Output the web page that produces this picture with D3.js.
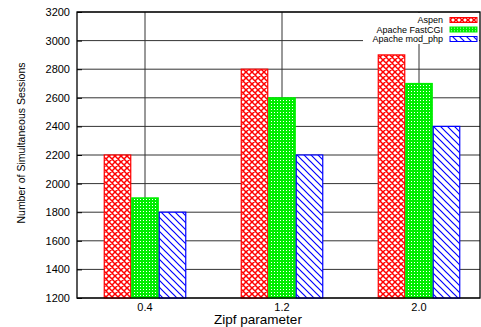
<!DOCTYPE html>
<html>
<head>
<meta charset="utf-8">
<script src="https://cdn.jsdelivr.net/npm/d3@7"></script>
<style>
  html, body { margin: 0; padding: 0; background: #fff; }
  svg { display: block; font-family: "Liberation Sans", Arial, Helvetica, sans-serif; }
</style>
</head>
<body>
<svg id="chart" width="481" height="327"></svg>
<script>
// Zipf parameter groups and the three server setups
const categories = ["0.4", "1.2", "2.0"];
const series = ["Aspen", "Apache FastCGI", "Apache mod_php"];
const aspen = [2200, 2800, 2900];
const fastcgi = [1900, 2600, 2700];
const modphp = [1800, 2200, 2400];
const yTicks = [1200, 1400, 1600, 1800, 2000, 2200, 2400, 2600, 2800, 3000, 3200];

const values = [aspen, fastcgi, modphp];
const colors = ["#ff0000", "#00ee00", "#0000ff"];
const patternIds = ["pat-cross", "pat-dots", "pat-diag"];

const svg = d3.select("#chart");
const plotLeft = 77, plotRight = 480, plotTop = 12, plotBottom = 298;

const y = d3.scaleLinear().domain([1200, 3200]).range([plotBottom, plotTop]);
const x0 = d3.scaleBand().domain(categories).range([76.5, 487.5]).padding(0);
const x1 = d3.scaleBand().domain(series).range([-41.25, 41.25]).padding(0);

// Fill patterns for the bars
const defs = svg.append("defs");
const pCross = defs.append("pattern").attr("id", "pat-cross")
  .attr("patternUnits", "userSpaceOnUse").attr("width", 6).attr("height", 6);
pCross.append("rect").attr("width", 6).attr("height", 6).attr("fill", "#fff");
pCross.append("path").attr("d", "M0,0L6,6M6,0L0,6M-1,5L1,7M5,-1L7,1M-1,1L1,-1M5,7L7,5")
  .attr("stroke", colors[0]).attr("stroke-width", 1.5);

const pDots = defs.append("pattern").attr("id", "pat-dots")
  .attr("patternUnits", "userSpaceOnUse").attr("width", 3).attr("height", 3);
pDots.append("rect").attr("width", 3).attr("height", 3).attr("fill", colors[1]);
pDots.append("rect").attr("x", 1).attr("y", 1).attr("width", 1).attr("height", 1).attr("fill", "#fff");

const pDiag = defs.append("pattern").attr("id", "pat-diag")
  .attr("patternUnits", "userSpaceOnUse").attr("width", 7).attr("height", 7);
pDiag.append("rect").attr("width", 7).attr("height", 7).attr("fill", "#fff");
pDiag.append("path").attr("d", "M0,0L7,7M-1,6L1,8M6,-1L8,1")
  .attr("stroke", colors[2]).attr("stroke-width", 1.2);

// Horizontal grid lines at every y tick
svg.append("g").selectAll("line").data(yTicks).join("line")
  .attr("x1", plotLeft).attr("x2", plotRight)
  .attr("y1", d => y(d)).attr("y2", d => y(d))
  .attr("stroke", "#333").attr("stroke-width", 1);

// Vertical grid lines at each group centre
svg.append("g").selectAll("line").data(categories).join("line")
  .attr("x1", d => x0(d) + x0.bandwidth() / 2).attr("x2", d => x0(d) + x0.bandwidth() / 2)
  .attr("y1", plotTop).attr("y2", plotBottom)
  .attr("stroke", "#333").attr("stroke-width", 1);

// Bars
const groups = svg.append("g").selectAll("g").data(categories).join("g")
  .attr("transform", d => `translate(${x0(d) + x0.bandwidth() / 2},0)`);
groups.selectAll("rect").data((c, i) => series.map((s, j) => ({ s, j, v: values[j][i] })))
  .join("rect")
  .attr("x", d => x1(d.s) + 0.5)
  .attr("width", x1.bandwidth() - 1)
  .attr("y", d => y(d.v))
  .attr("height", d => y(1200) - y(d.v))
  .attr("fill", d => `url(#${patternIds[d.j]})`)
  .attr("stroke", d => colors[d.j])
  .attr("stroke-width", 1.2);

// Frame
svg.append("rect").attr("x", plotLeft).attr("y", plotTop)
  .attr("width", plotRight - plotLeft).attr("height", plotBottom - plotTop)
  .attr("fill", "none").attr("stroke", "#000").attr("stroke-width", 1.3);

// Y axis tick labels and small inward ticks
const yAxis = d3.axisLeft(y).tickValues(yTicks).tickFormat(d3.format("d"))
  .tickSize(-5).tickPadding(7);
const gy = svg.append("g").attr("transform", `translate(${plotLeft},0)`).call(yAxis);
gy.select(".domain").remove();
gy.selectAll("text").attr("font-size", 11).attr("font-family", "Liberation Sans, Arial, sans-serif")
  .attr("fill", "#000");
gy.selectAll(".tick line").attr("stroke", "#000");

// X axis tick labels
const xAxis = d3.axisBottom(x0).tickSize(0).tickPadding(5);
const gx = svg.append("g").attr("transform", `translate(0,${plotBottom})`).call(xAxis);
gx.select(".domain").remove();
gx.selectAll("text").attr("font-size", 11).attr("font-family", "Liberation Sans, Arial, sans-serif")
  .attr("fill", "#000");

// Axis titles
svg.append("text").attr("x", 258).attr("y", 324).attr("text-anchor", "middle")
  .attr("font-size", 13.5).text("Zipf parameter");
svg.append("text").attr("transform", "translate(25,143) rotate(-90)").attr("text-anchor", "middle")
  .attr("font-size", 10.5).text("Number of Simultaneous Sessions");

// Legend
const legend = svg.append("g");
legend.append("rect").attr("x", 363).attr("y", 13).attr("width", 116).attr("height", 31)
  .attr("fill", "#fff");
const rows = legend.selectAll("g").data(series).join("g")
  .attr("transform", (d, i) => `translate(0,${20 + i * 9.5})`);
rows.append("text").attr("x", 443).attr("y", 3.2).attr("text-anchor", "end")
  .attr("font-size", 9).text(d => d);
rows.append("rect").attr("x", 450).attr("y", -2.5).attr("width", 27).attr("height", 5)
  .attr("fill", (d, i) => `url(#${patternIds[i]})`)
  .attr("stroke", (d, i) => colors[i]).attr("stroke-width", 1);
</script>
</body>
</html>
